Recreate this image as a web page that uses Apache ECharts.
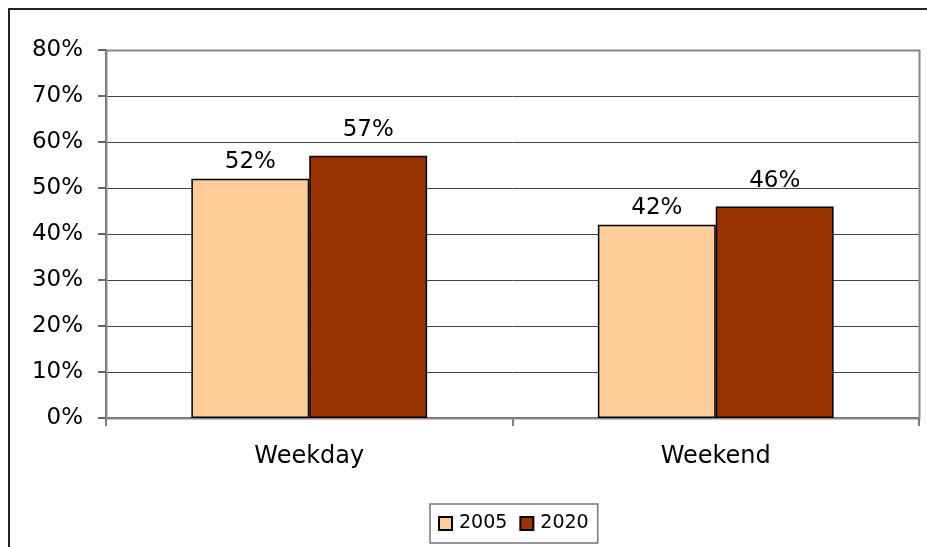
<!DOCTYPE html>
<html>
<head>
<meta charset="utf-8">
<script src="https://cdn.jsdelivr.net/npm/echarts@6/dist/echarts.min.js"></script>
<style>
  html, body { margin: 0; padding: 0; background: #fff; }
  #chart { width: 927px; height: 547px; }
</style>
</head>
<body>
<div id="chart"></div>
<script>
// Share of trips by day type
const categories = ['Weekday', 'Weekend'];
const seriesNames = ['2005', '2020'];
const values2005 = [52, 42];
const values2020 = [57, 46];
const yTicks = [0, 10, 20, 30, 40, 50, 60, 70, 80];

const FONT = 'DejaVu Sans';
const chart = echarts.init(document.getElementById('chart'), null, { renderer: 'canvas' });

const barStyle = (color) => ({ color: color, borderColor: '#000', borderWidth: 1.5 });
const labelStyle = (dist) => ({
  show: true,
  position: 'top',
  distance: dist,
  formatter: (p) => p.value + '%',
  fontFamily: FONT,
  fontSize: 23,
  color: '#000'
});

chart.setOption({
  animation: false,
  backgroundColor: '#fff',
  graphic: [
    {
      type: 'rect',
      shape: { x: 9, y: 9, width: 1000, height: 1000 },
      style: { fill: 'none', stroke: '#222', lineWidth: 2 },
      z: 0
    },
    {
      type: 'rect',
      shape: { x: 106.5, y: 50.5, width: 813, height: 368 },
      style: { fill: 'none', stroke: '#888', lineWidth: 2 },
      z: 1
    }
  ],
  grid: { left: 106, top: 50, width: 813, height: 368, containLabel: false },
  legend: {
    data: seriesNames,
    bottom: 4,
    left: 430,
    itemWidth: 13,
    itemHeight: 13,
    itemGap: 12,
    padding: [10, 9, 10, 8],
    borderColor: '#777',
    borderWidth: 1.5,
    borderRadius: 0,
    icon: 'rect',
    textStyle: { fontFamily: FONT, fontSize: 19, color: '#000', padding: [0, 0, 0, 2] }
  },
  xAxis: {
    type: 'category',
    data: categories,
    axisLine: { lineStyle: { color: '#333', width: 1.5 } },
    axisTick: { show: true, length: 8, lineStyle: { color: '#555', width: 1.5 } },
    axisLabel: { fontFamily: FONT, fontSize: 24, color: '#000', margin: 27 }
  },
  yAxis: {
    type: 'value',
    min: 0,
    max: 80,
    interval: 10,
    axisLine: { show: true, lineStyle: { color: '#333', width: 1.5 } },
    axisTick: { show: true, length: 8, lineStyle: { color: '#333', width: 1.5 } },
    splitLine: { show: true, lineStyle: { color: '#444', width: 1 } },
    axisLabel: {
      fontFamily: FONT, fontSize: 23, color: '#000', margin: 23,
      formatter: (v) => (yTicks.includes(v) ? v + '%' : '')
    }
  },
  series: [
    {
      name: seriesNames[0],
      type: 'bar',
      data: values2005,
      barGap: '0%',
      barCategoryGap: '42%',
      itemStyle: barStyle('#FFCC99'),
      label: labelStyle(5)
    },
    {
      name: seriesNames[1],
      type: 'bar',
      data: values2020,
      itemStyle: barStyle('#993300'),
      label: labelStyle(14)
    }
  ]
});
</script>
</body>
</html>
